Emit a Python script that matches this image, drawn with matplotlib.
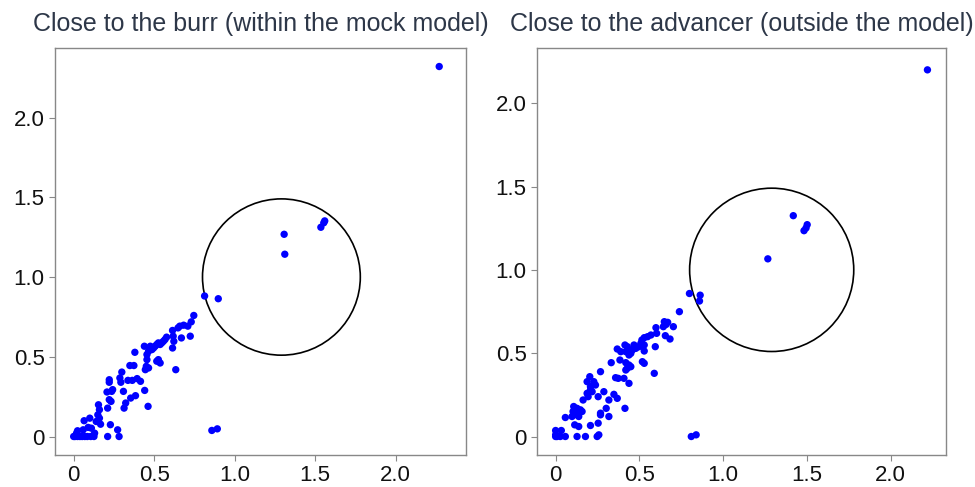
import numpy as np
import matplotlib
matplotlib.use('Agg')
import matplotlib.pyplot as plt
from matplotlib.patches import Circle

plt.rcParams['font.family'] = ['Liberation Sans', 'DejaVu Sans']

# painel esquerdo: perto do burr (dentro do modelo)
x_burr = [0.746, 0.73, 0.709, 0.683, 0.659, 0.648, 0.614, 0.618, 0.622, 0.577, 0.567,
          0.557, 0.547, 0.537, 0.526, 0.516, 0.506, 0.496, 0.486, 0.476, 0.465, 0.455,
          0.724, 0.669, 0.614, 0.439, 0.38, 0.526, 0.537, 0.516, 0.455, 0.451, 0.465,
          0.445, 0.634, 0.349, 0.374, 0.299, 0.221, 0.221, 0.287, 0.293, 0.337, 0.364,
          0.394, 0.415, 0.207, 0.236, 0.242, 0.309, 0.354, 0.384, 0.441, 0.221, 0.232,
          0.323, 0.313, 0.211, 0.154, 0.16, 0.15, 0.16, 0.14, 0.167, 0.1, 0.065, 0.11,
          0.09, 0.059, 0.024, 0.018, 0.228, 0.273, 0.282, 0.211, 0.462,
          0.008, 0.024, 0.039, 0.053, 0.069, 0.085, 0.106, 0.126, 0.13, 0.0, 0.015,
          0.858, 0.892, 1.307, 1.311, 1.535, 1.559, 1.553, 0.813, 0.898, 2.27]
y_burr = [0.759, 0.719, 0.692, 0.698, 0.692, 0.681, 0.665, 0.629, 0.597, 0.623, 0.608,
          0.597, 0.587, 0.577, 0.587, 0.577, 0.566, 0.555, 0.545, 0.566, 0.535, 0.514,
          0.629, 0.618, 0.555, 0.566, 0.528, 0.482, 0.461, 0.472, 0.482, 0.44, 0.43,
          0.419, 0.419, 0.445, 0.445, 0.404, 0.356, 0.34, 0.367, 0.34, 0.352, 0.352,
          0.363, 0.346, 0.279, 0.283, 0.294, 0.283, 0.241, 0.256, 0.289, 0.231, 0.22,
          0.21, 0.178, 0.178, 0.199, 0.168, 0.136, 0.115, 0.094, 0.077, 0.115, 0.099,
          0.052, 0.057, 0.042, 0.036, 0.021, 0.074, 0.042, 0.0, 0.0, 0.189,
          0.0, 0.0, 0.0, 0.0, 0.0, 0.0, 0.0, 0.0, 0.021, 0.0, 0.01,
          0.038, 0.048, 1.268, 1.143, 1.312, 1.352, 1.34, 0.881, 0.864, 2.32]

# painel direito: perto do advancer (fora do modelo)
x_adv = [0.739, 0.649, 0.659, 0.643, 0.669, 0.703, 0.599, 0.603, 0.569, 0.549, 0.529,
         0.515, 0.509, 0.529, 0.498, 0.479, 0.468, 0.458, 0.449, 0.428, 0.414, 0.438,
         0.419, 0.389, 0.683, 0.655, 0.595, 0.529, 0.518, 0.529, 0.368, 0.332, 0.384,
         0.419, 0.438, 0.428, 0.449, 0.419, 0.589, 0.268, 0.204, 0.188, 0.228, 0.238,
         0.208, 0.208, 0.218, 0.188, 0.194, 0.288, 0.358, 0.374, 0.408, 0.438, 0.348,
         0.368, 0.318, 0.254, 0.164, 0.108, 0.128, 0.148, 0.104, 0.128, 0.158, 0.138,
         0.098, 0.058, 0.114, 0.138, 0.208, 0.254, 0.302, 0.268, 0.268, 0.318, 0.414,
         0.0, 0.034, 0.0, 0.0, 0.008, 0.028, 0.058, 0.128, 0.178, 0.248, 0.258,
         0.81, 0.839, 1.419, 1.502, 1.495, 1.483, 1.267, 0.799, 0.863, 0.859, 2.22]
y_adv = [0.749, 0.689, 0.672, 0.659, 0.685, 0.659, 0.653, 0.619, 0.609, 0.599, 0.593,
         0.579, 0.559, 0.549, 0.539, 0.529, 0.549, 0.519, 0.499, 0.539, 0.549, 0.489,
         0.509, 0.509, 0.585, 0.605, 0.539, 0.513, 0.449, 0.439, 0.525, 0.443, 0.459,
         0.443, 0.429, 0.409, 0.419, 0.399, 0.379, 0.389, 0.359, 0.329, 0.329, 0.309,
         0.299, 0.279, 0.269, 0.259, 0.239, 0.269, 0.353, 0.349, 0.349, 0.319, 0.253,
         0.229, 0.219, 0.239, 0.219, 0.18, 0.169, 0.16, 0.15, 0.13, 0.15, 0.12,
         0.12, 0.114, 0.07, 0.06, 0.066, 0.08, 0.169, 0.14, 0.13, 0.12, 0.169,
         0.036, 0.036, 0.01, 0.0, 0.0, 0.0, 0.0, 0.0, 0.0, 0.0, 0.01,
         0.0, 0.01, 1.325, 1.271, 1.251, 1.235, 1.066, 0.858, 0.848, 0.813, 2.20]

titles = ['Close to the burr (within the mock model)',
          'Close to the advancer (outside the model)']
ticks = [0, 0.5, 1.0, 1.5, 2.0]
tick_labels = ['0', '0.5', '1.0', '1.5', '2.0']
circle_center = (1.29, 1.0)
circle_radius = 0.49

fig = plt.figure(figsize=(9.75, 4.87), dpi=100)
ax1 = fig.add_axes([0.0564, 0.0657, 0.4215, 0.8357])
ax2 = fig.add_axes([0.5508, 0.0657, 0.4195, 0.8357])

for ax, xs, ys, title in [(ax1, x_burr, y_burr, titles[0]), (ax2, x_adv, y_adv, titles[1])]:
    ax.scatter(xs, ys, s=28, color='#0000ff', edgecolors='none', zorder=3)
    ax.add_patch(Circle(circle_center, circle_radius, fill=False, edgecolor='black', lw=1.2))
    ax.set_title(title, fontsize=18, color='#2d3748', pad=12)
    ax.set_xticks(ticks)
    ax.set_xticklabels(tick_labels)
    ax.set_yticks(ticks)
    ax.set_yticklabels(tick_labels)
    ax.tick_params(labelsize=16, color='#888888', length=4, width=0.8, labelcolor='#111111')
    for sp in ax.spines.values():
        sp.set_color('#888888')
        sp.set_linewidth(1)
    lim = max(max(xs), max(ys))
    ax.set_xlim(-0.05 * lim, 1.05 * lim)
    ax.set_ylim(-0.05 * lim, 1.05 * lim)

fig.savefig('out.png', dpi=100)
